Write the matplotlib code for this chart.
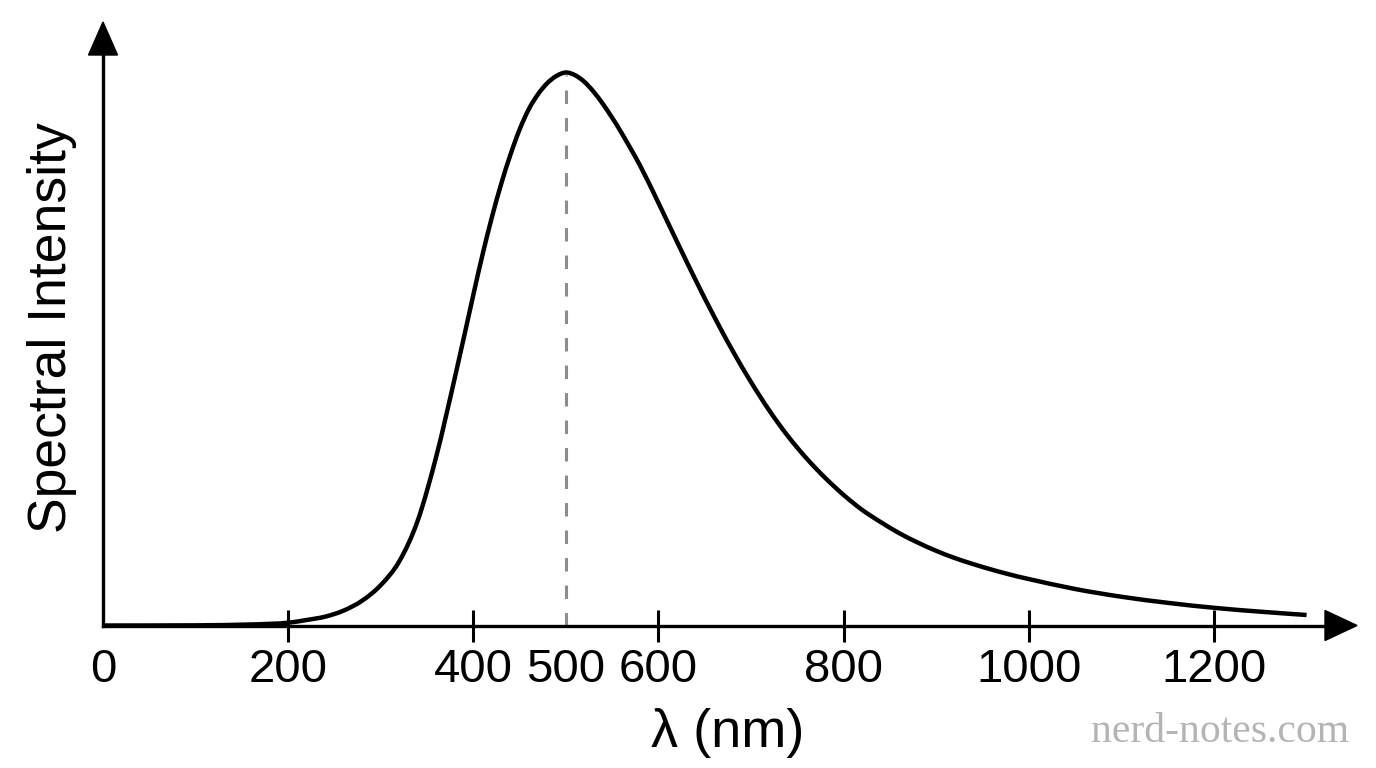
import numpy as np
import matplotlib
matplotlib.use("Agg")
import matplotlib.pyplot as plt
from matplotlib.patches import Polygon, PathPatch
from matplotlib.path import Path

# Kurvenwerte, normiert auf das Maximum
wavelength = [0, 100, 150, 180, 200, 220, 240, 260, 280, 300, 320, 340, 360, 380,
              400, 410, 420, 430, 440, 450, 460, 470, 480, 490, 500, 510, 520,
              530, 540, 550, 560, 580, 600, 620, 640, 660, 680, 700, 720, 740,
              760, 780, 800, 820, 840, 860, 880, 900, 920, 940, 960, 980, 1000,
              1050, 1100, 1150, 1200, 1250, 1300]
intensity = [0, 0.0003, 0.0015, 0.003, 0.005, 0.010, 0.016, 0.027, 0.045, 0.073,
             0.116, 0.190, 0.306, 0.448, 0.598, 0.671, 0.738, 0.798, 0.851, 0.897,
             0.934, 0.961, 0.981, 0.994, 1.0, 0.995, 0.983, 0.965, 0.943, 0.918,
             0.891, 0.832, 0.764, 0.694, 0.625, 0.559, 0.497, 0.440, 0.388, 0.342,
             0.302, 0.267, 0.236, 0.209, 0.187, 0.167, 0.150, 0.135, 0.122, 0.111,
             0.101, 0.092, 0.084, 0.066, 0.052, 0.041, 0.032, 0.025, 0.019]

tick_values = [0, 200, 400, 500, 600, 800, 1000, 1200]
no_tick_line = [0, 500]

W, H = 1376, 768
fig = plt.figure(figsize=(W / 100, H / 100), dpi=100)

# Achsenbereich in Pixeln
x0, y0 = 103, 142.5
x1, y1 = 1326, 713
ax = fig.add_axes([x0 / W, y0 / H, (x1 - x0) / W, (y1 - y0) / H])
ax.set_xlim(0, (x1 - x0) / 0.92583)
ax.set_ylim(0, (y1 - y0) / 553)

# glatte Kurve durch die Punkte (Catmull-Rom -> Bezier)
pts = np.column_stack([wavelength, intensity]).astype(float)
verts = [pts[0]]
codes = [Path.MOVETO]
for i in range(len(pts) - 1):
    p0 = pts[max(i - 1, 0)]
    p1 = pts[i]
    p2 = pts[i + 1]
    p3 = pts[min(i + 2, len(pts) - 1)]
    verts += [p1 + (p2 - p0) / 6, p2 - (p3 - p1) / 6, p2]
    codes += [Path.CURVE4] * 3
ax.add_patch(PathPatch(Path(verts, codes), facecolor="none", edgecolor="black",
                       lw=3.2, capstyle="butt", zorder=3))

# gestrichelte Linie beim Maximum
i_max = int(np.argmax(intensity))
ax.vlines(wavelength[i_max], 0, intensity[i_max] * 0.995, color="#8c8c8c", lw=2.2,
          linestyles=(0, (4.4, 4.6)), zorder=2)

for s in ["top", "right"]:
    ax.spines[s].set_visible(False)
for s in ["left", "bottom"]:
    ax.spines[s].set_linewidth(2.4)

ax.set_yticks([])
ax.set_xticks(tick_values)
ax.set_xticklabels([str(v) for v in tick_values], family="Liberation Sans")
ax.tick_params(axis="x", direction="inout", length=23, width=2.2, labelsize=34, pad=5)
for t, v in zip(ax.xaxis.get_major_ticks(), tick_values):
    if v in no_tick_line:
        t.tick1line.set_visible(False)

# Pfeilspitzen
fig.add_artist(Polygon([[1325 / W, (y0 + 15) / H], [1357 / W, y0 / H], [1325 / W, (y0 - 15) / H]],
                       closed=True, color="black", transform=fig.transFigure))
fig.add_artist(Polygon([[(x0 - 14.5) / W, y1 / H], [x0 / W, 746 / H], [(x0 + 14.5) / W, y1 / H]],
                       closed=True, color="black", transform=fig.transFigure))

fig.text(66 / W, 440 / H, "Spectral Intensity", rotation=90, rotation_mode="anchor",
         ha="center", va="baseline", fontsize=38.5, family="Liberation Sans")
fig.text(728 / W, 21 / H, "λ (nm)", ha="center", va="baseline", fontsize=39,
         family="Liberation Sans")
fig.text(1220 / W, 26 / H, "nerd-notes.com", ha="center", va="baseline", fontsize=30,
         family="Liberation Serif", color="#b4b4b4")

fig.savefig("out.png", dpi=100)
